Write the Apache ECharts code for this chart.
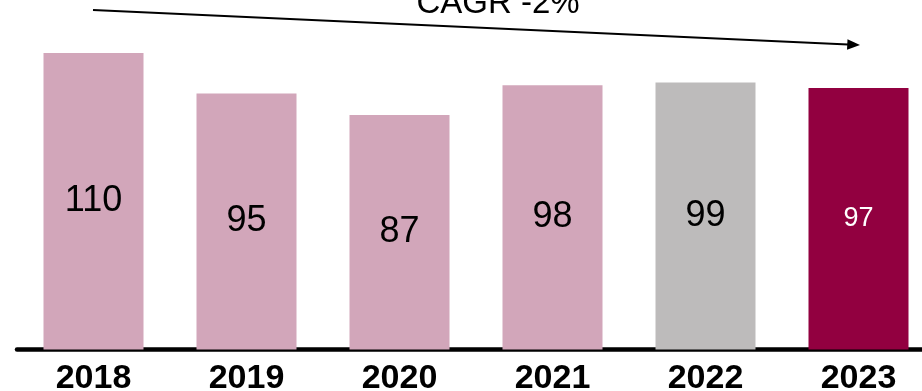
<!DOCTYPE html>
<html>
<head>
<meta charset="utf-8">
<script src="https://cdn.jsdelivr.net/npm/echarts@6/dist/echarts.min.js"></script>
<style>
  html, body { margin: 0; padding: 0; background: #ffffff; }
  #chart { width: 922px; height: 391px; }
</style>
</head>
<body>
<div id="chart"></div>
<script>
// Yearly totals
const years = ['2018', '2019', '2020', '2021', '2022', '2023'];
const values = [110, 95, 87, 98, 99, 97];
const cagrLabel = 'CAGR -2%';

const FONT = '"Liberation Sans", Arial, sans-serif';
const PINK = '#D2A6BA';
const GREY = '#BDBBBB';
const CRIMSON = '#920040';

function barStyle(i) {
  const last = years.length - 1;
  if (i === last) {
    return { color: CRIMSON, labelColor: '#ffffff', fontSize: 27 };
  }
  if (i === last - 1) {
    return { color: GREY, labelColor: '#000000', fontSize: 36 };
  }
  return { color: PINK, labelColor: '#000000', fontSize: 36 };
}

const barData = values.map((v, i) => {
  const s = barStyle(i);
  return {
    value: v,
    itemStyle: { color: s.color },
    label: { color: s.labelColor, fontSize: s.fontSize }
  };
});

const chart = echarts.init(document.getElementById('chart'), null, { renderer: 'canvas' });

chart.setOption({
  animation: false,
  backgroundColor: '#ffffff',
  grid: {
    left: 17, right: -13, top: 26, bottom: 41.5,
    containLabel: false,
    outerBoundsMode: 'none'
  },
  xAxis: {
    type: 'category',
    data: years,
    axisLine: { show: true, lineStyle: { color: '#000000', width: 4.5 } },
    axisTick: { show: false },
    axisLabel: {
      color: '#000000',
      fontFamily: FONT,
      fontWeight: 'bold',
      fontSize: 34,
      margin: 12
    }
  },
  yAxis: {
    type: 'value',
    min: 0,
    max: 120,
    show: false,
    splitLine: { show: false }
  },
  series: [{
    type: 'bar',
    data: barData,
    barWidth: 100,
    label: {
      show: true,
      position: 'inside',
      fontFamily: FONT
    }
  }],
  graphic: [
    {
      type: 'line',
      shape: { x1: 93, y1: 10, x2: 848, y2: 44.5 },
      style: { stroke: '#000000', lineWidth: 2 }
    },
    {
      type: 'polygon',
      shape: { points: [[860, 45], [847.5, 39.2], [847, 49.8]] },
      style: { fill: '#000000' }
    },
    {
      type: 'text',
      x: 498,
      y: 20.5,
      style: {
        text: cagrLabel,
        font: '33px ' + FONT,
        fill: '#000000',
        align: 'center',
        verticalAlign: 'bottom'
      }
    }
  ]
});
</script>
</body>
</html>
